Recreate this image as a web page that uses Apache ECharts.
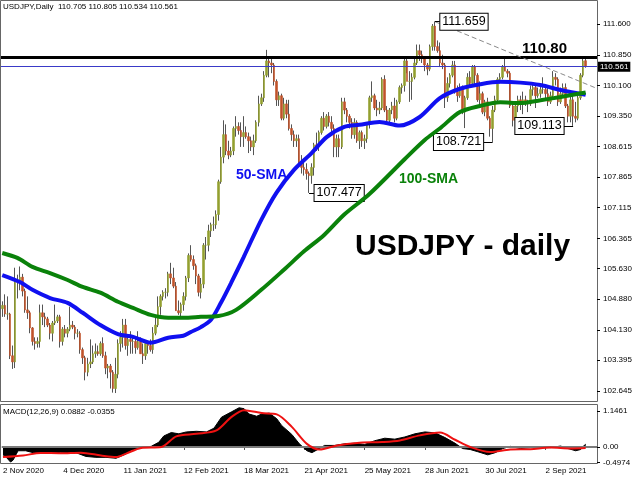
<!DOCTYPE html>
<html><head><meta charset="utf-8">
<script src="https://cdn.jsdelivr.net/npm/echarts@6/dist/echarts.min.js"></script>
<style>html,body{margin:0;padding:0;background:#fff}#c{width:640px;height:480px}</style>
</head><body><div id="c"></div>
<script>
// ---------- DATA ----------
const monthNames = ['Jan','Feb','Mar','Apr','May','Jun','Jul','Aug','Sep','Oct','Nov','Dec'];
const firstDay = '2020-11-02', lastDay = '2021-09-24';
const noBarDays = ['2020-12-25','2021-01-01'];
const dateLabels = ['2 Nov 2020','4 Dec 2020','11 Jan 2021','12 Feb 2021','18 Mar 2021','21 Apr 2021','25 May 2021','28 Jun 2021','30 Jul 2021','2 Sep 2021'];
const priceTicks = [111.600,110.850,110.100,109.350,108.615,107.865,107.115,106.365,105.630,104.880,104.130,103.395,102.645];
const macdTicks = [1.1461, 0, -0.4974];

// daily candles [open, high, low, close]
const candles = [
// Nov 2-6
[104.65,104.83,104.45,104.73],[104.73,105.00,104.45,104.52],[104.52,104.95,104.38,104.52],[104.52,104.55,103.42,103.50],[103.50,103.75,103.18,103.35],
// Nov 9-13
[103.35,105.65,103.20,105.35],[105.35,105.48,104.90,105.30],[105.30,105.68,105.10,105.42],[105.42,105.50,104.95,105.08],[105.08,105.14,104.55,104.62],
// Nov 16-20
[104.62,104.95,104.40,104.55],[104.55,104.60,104.05,104.18],[104.18,104.20,103.75,103.85],[103.85,103.95,103.65,103.80],[103.80,103.95,103.70,103.85],
// Nov 23-27
[103.85,104.75,103.70,104.55],[104.55,104.75,104.25,104.45],[104.45,104.55,104.20,104.40],[104.40,104.45,104.20,104.25],[104.25,104.30,103.90,104.05],
// Nov 30-Dec 4
[104.05,104.35,103.85,104.30],[104.30,104.75,104.25,104.35],[104.35,104.50,104.30,104.45],[104.45,104.50,103.70,103.85],[103.85,104.20,103.75,104.15],
// Dec 7-11
[104.15,104.25,103.95,104.05],[104.05,104.20,103.95,104.15],[104.15,104.70,104.10,104.25],[104.25,104.35,104.15,104.20],[104.20,104.25,103.90,104.05],
// Dec 14-18
[104.05,104.15,103.95,104.05],[104.05,104.10,103.55,103.65],[103.65,103.70,103.30,103.45],[103.45,103.50,102.90,103.10],[103.10,103.45,103.00,103.30],
// Dec 21-24
[103.30,103.90,103.20,103.35],[103.35,103.75,103.30,103.55],[103.55,103.80,103.45,103.60],[103.60,103.75,103.50,103.55],
// Dec 28-31
[103.55,103.85,103.50,103.80],[103.80,103.95,103.45,103.50],[103.50,103.60,103.05,103.20],[103.20,103.30,102.95,103.25],
// Jan 4-8
[103.25,103.30,102.70,103.10],[103.10,103.15,102.60,102.70],[102.70,103.45,102.59,103.05],[103.05,103.90,102.95,103.80],[103.80,104.10,103.60,103.95],
// Jan 11-15
[103.95,104.40,103.70,104.25],[104.25,104.40,103.65,103.75],[103.75,104.00,103.50,103.90],[103.90,104.10,103.55,103.85],[103.85,104.00,103.55,103.85],
// Jan 18-22
[103.85,103.95,103.55,103.70],[103.70,104.10,103.65,103.85],[103.85,103.95,103.55,103.55],[103.55,103.80,103.30,103.50],[103.50,103.85,103.40,103.80],
// Jan 25-29
[103.80,103.85,103.55,103.75],[103.75,103.90,103.60,103.65],[103.65,104.20,103.55,104.05],[104.05,104.50,104.00,104.25],[104.25,104.95,104.20,104.70],
// Feb 1-5
[104.70,105.00,104.50,104.95],[104.95,105.10,104.85,105.05],[105.05,105.15,104.90,105.05],[105.05,105.55,104.95,105.50],[105.50,105.77,105.25,105.40],
// Feb 8-12
[105.40,105.65,105.15,105.20],[105.20,105.30,104.60,104.60],[104.60,104.85,104.50,104.55],[104.55,104.80,104.45,104.75],[104.75,105.05,104.60,104.95],
// Feb 15-19
[104.95,105.45,104.85,105.40],[105.40,106.00,105.30,105.95],[105.95,106.20,105.80,105.85],[105.85,105.95,105.60,105.70],[105.70,105.75,105.25,105.45],
// Feb 22-26
[105.45,105.50,104.95,105.05],[105.05,105.40,104.90,105.25],[105.25,106.25,105.15,106.20],[106.20,106.40,105.85,106.20],[106.20,106.70,106.05,106.55],
// Mar 1-5
[106.55,106.75,106.40,106.70],[106.70,106.90,106.55,106.70],[106.70,107.05,106.60,106.95],[106.95,107.80,106.80,107.75],[107.75,108.60,107.70,108.35],
// Mar 8-12
[108.35,109.25,108.20,108.90],[108.90,109.15,108.40,108.50],[108.50,108.75,108.30,108.40],[108.40,108.60,108.35,108.50],[108.50,109.10,108.40,109.05],
// Mar 15-19
[109.05,109.35,108.85,109.10],[109.10,109.20,108.90,109.00],[109.00,109.20,108.60,108.85],[108.85,109.35,108.60,108.95],[108.95,109.10,108.80,108.85],
// Mar 22-26
[108.85,108.95,108.45,108.75],[108.75,108.85,108.50,108.60],[108.60,108.90,108.40,108.75],[108.75,109.25,108.70,109.20],[109.20,109.85,109.10,109.65],
// Mar 29-Apr 2
[109.65,109.90,109.60,109.80],[109.80,110.45,109.70,110.35],[110.35,110.97,110.30,110.70],[110.70,110.80,110.30,110.65],[110.65,110.75,110.40,110.60],
// Apr 5-9
[110.60,110.65,110.10,110.20],[110.20,110.25,109.60,109.75],[109.75,109.95,109.60,109.85],[109.85,109.90,109.25,109.30],[109.30,109.80,109.25,109.65],
// Apr 12-16
[109.65,109.75,109.30,109.40],[109.40,109.75,109.00,109.05],[109.05,109.15,108.75,108.90],[108.90,109.00,108.60,108.75],[108.75,108.90,108.60,108.80],
// Apr 19-23
[108.80,108.90,108.20,108.20],[108.20,108.40,107.95,108.10],[108.10,108.30,107.90,108.05],[108.05,108.20,107.80,107.95],[107.95,108.00,107.477,107.90],
// Apr 26-30
[107.90,108.20,107.70,108.10],[108.10,108.70,107.90,108.65],[108.65,108.95,108.50,108.60],[108.60,109.00,108.50,108.95],[108.95,109.35,108.90,109.30],
// May 3-7
[109.30,109.45,109.00,109.10],[109.10,109.40,109.05,109.35],[109.35,109.45,109.10,109.20],[109.20,109.35,108.95,109.05],[109.05,109.15,108.35,108.60],
// May 10-14
[108.60,108.90,108.35,108.80],[108.80,108.90,108.35,108.60],[108.60,109.80,108.55,109.70],[109.70,109.80,109.40,109.50],[109.50,109.55,109.20,109.35],
// May 17-21
[109.35,109.40,109.05,109.20],[109.20,109.30,108.80,108.90],[108.90,109.30,108.80,109.20],[109.20,109.25,108.70,108.75],[108.75,109.00,108.55,108.95],
// May 24-28
[108.95,109.00,108.60,108.75],[108.75,108.90,108.55,108.80],[108.80,109.20,108.70,109.15],[109.15,109.85,109.05,109.80],[109.80,110.20,109.70,109.85],
// May 31-Jun 4
[109.85,109.90,109.50,109.55],[109.55,109.75,109.35,109.50],[109.50,109.70,109.40,109.55],[109.55,110.30,109.50,110.25],[110.25,110.35,109.45,109.50],
// Jun 7-11
[109.50,109.60,109.20,109.25],[109.25,109.55,109.20,109.50],[109.50,109.70,109.40,109.60],[109.60,109.80,109.20,109.30],[109.30,109.75,109.25,109.70],
// Jun 14-18
[109.70,110.10,109.65,110.05],[110.05,110.15,109.90,110.10],[110.10,110.80,109.95,110.70],[110.70,110.80,110.40,110.20],[110.20,110.45,109.70,110.20],
// Jun 21-25
[110.20,110.40,109.75,110.30],[110.30,110.80,110.25,110.65],[110.65,111.10,110.60,110.95],[110.95,111.10,110.70,110.85],[110.85,110.95,110.65,110.75],
// Jun 28-Jul 2
[110.75,110.80,110.45,110.60],[110.60,110.65,110.35,110.50],[110.50,111.10,110.45,111.05],[111.05,111.60,110.95,111.55],[111.55,111.659,110.95,111.05],
// Jul 5-9
[111.05,111.20,110.90,110.95],[110.95,111.15,110.55,110.65],[110.65,110.85,110.50,110.60],[110.60,110.65,109.55,109.80],[109.80,110.30,109.70,110.15],
// Jul 12-16
[110.15,110.40,110.05,110.35],[110.35,110.70,110.30,110.60],[110.60,110.70,109.90,109.95],[109.95,110.10,109.70,109.85],[109.85,110.15,109.80,110.05],
// Jul 19-23
[110.05,110.10,109.40,109.45],[109.45,109.85,109.06,109.80],[109.80,110.40,109.75,110.30],[110.30,110.45,110.05,110.15],[110.15,110.60,110.10,110.55],
// Jul 26-30
[110.55,110.60,110.10,110.35],[110.35,110.40,109.70,109.75],[109.75,110.20,109.60,109.90],[109.90,109.95,109.40,109.45],[109.45,109.75,109.35,109.70],
// Aug 2-6
[109.70,109.80,109.25,109.30],[109.30,109.35,108.85,109.05],[109.05,109.60,108.721,109.50],[109.50,109.85,109.45,109.75],[109.75,110.30,109.70,110.25],
// Aug 9-13
[110.25,110.40,110.15,110.30],[110.30,110.60,110.25,110.55],[110.55,110.75,110.45,110.45],[110.45,110.50,110.30,110.40],[110.40,110.45,109.55,109.60],
// Aug 16-20
[109.60,109.65,109.10,109.25],[109.25,109.65,109.10,109.60],[109.60,109.85,109.45,109.75],[109.75,109.85,109.50,109.70],[109.70,109.95,109.40,109.75],
// Aug 23-27
[109.75,109.85,109.60,109.70],[109.70,109.75,109.45,109.65],[109.65,110.10,109.60,110.00],[110.00,110.15,109.85,110.05],[110.05,110.10,109.55,109.85],
// Aug 30-Sep 3
[109.85,110.05,109.80,109.90],[109.90,110.10,109.80,110.00],[110.00,110.30,109.90,110.00],[110.00,110.05,109.75,109.90],[109.90,110.05,109.60,109.70],
// Sep 6-10
[109.70,109.95,109.65,109.85],[109.85,110.45,109.80,110.30],[110.30,110.40,110.10,110.25],[110.25,110.30,109.60,109.70],[109.70,110.05,109.65,109.90],
// Sep 13-17
[109.90,110.15,109.85,110.05],[110.05,110.15,109.55,109.60],[109.60,109.65,109.20,109.35],[109.35,109.85,109.20,109.75],[109.75,109.85,109.113,109.35],
// Sep 20-24
[109.35,109.70,109.20,109.30],[109.30,109.85,109.25,109.80],[109.80,110.40,109.75,110.35],[110.35,110.75,110.30,110.70],[110.705,110.805,110.534,110.561]
];

// moving averages: [bar index, value]
const sma50 = [[0,105.47],[7,105.30],[12,105.11],[19,104.91],[26,104.79],[32,104.55],[39,104.25],[46,104.03],[52,103.96],[59,103.82],[66,103.94],[72,103.99],[75,104.08],[79,104.20],[83,104.38],[87,104.80],[91,105.28],[96,105.91],[103,106.82],[109,107.48],[116,108.04],[123,108.45],[129,108.84],[136,109.09],[142,109.14],[150,109.21],[158,109.12],[166,109.33],[174,109.79],[182,110.02],[190,110.13],[198,110.19],[206,110.17],[214,110.11],[222,109.99],[227,109.93],[232,109.87]];
const sma100 = [[0,106.01],[6,105.89],[12,105.67],[19,105.52],[26,105.35],[32,105.18],[39,105.04],[46,104.82],[52,104.67],[59,104.50],[66,104.43],[72,104.43],[79,104.45],[86,104.47],[93,104.62],[103,105.11],[112,105.60],[120,106.05],[128,106.45],[136,106.95],[146,107.45],[160,108.30],[168,108.77],[174,109.05],[182,109.45],[190,109.60],[198,109.69],[206,109.67],[214,109.74],[222,109.82],[232,109.93]];
// MACD main (histogram) and signal: [bar index, value]
const macdMain = [[0,-0.25],[1,-0.30],[3,-0.48],[4,-0.42],[6,-0.12],[9,-0.12],[12,-0.18],[17,-0.20],[23,-0.17],[29,-0.18],[33,-0.30],[37,-0.33],[41,-0.33],[45,-0.36],[49,-0.22],[51,-0.10],[55,-0.02],[59,0.02],[62,0.15],[64,0.35],[67,0.46],[70,0.42],[73,0.48],[77,0.50],[81,0.48],[84,0.60],[87,0.95],[91,1.12],[94,1.25],[96,1.22],[98,1.05],[101,0.98],[103,1.05],[106,1.08],[109,0.90],[111,0.68],[115,0.40],[118,0.10],[121,-0.12],[123,-0.18],[126,-0.05],[128,0.05],[132,0.05],[136,0.10],[140,0.12],[144,0.08],[148,0.20],[152,0.28],[156,0.25],[160,0.32],[164,0.42],[168,0.48],[172,0.45],[176,0.30],[180,0.12],[183,-0.05],[186,-0.08],[189,-0.15],[193,-0.25],[196,-0.18],[199,-0.05],[202,0.02],[206,-0.05],[210,-0.02],[214,0.00],[218,-0.02],[222,0.03],[225,-0.05],[228,-0.12],[230,-0.08],[231,0.02],[232,0.0882]];
const macdSignal = [[0,-0.32],[8,-0.27],[15,-0.19],[23,-0.20],[31,-0.18],[39,-0.27],[45,-0.32],[49,-0.21],[55,-0.03],[63,0.00],[69,0.34],[77,0.42],[85,0.53],[91,0.96],[96,1.17],[103,1.08],[109,1.04],[115,0.64],[121,0.10],[126,-0.08],[133,0.05],[141,0.13],[151,0.16],[158,0.21],[166,0.37],[174,0.46],[180,0.23],[186,0.00],[194,-0.16],[202,-0.08],[210,-0.07],[218,-0.02],[226,-0.05],[232,-0.0355]];
const levels = {resistance: 110.80, last: 110.561};
const trendFrom = [172, 111.659], trendTo = [236, 110.04];
const swingPoints = [[172,111.659,'right'],[122,107.477,'right'],[195,108.721,'left'],[227,109.113,'left']];

// ---------- BUILD ----------
const dates = [];
for (let d = new Date(firstDay + 'T00:00:00Z'); d <= new Date(lastDay + 'T00:00:00Z'); d.setUTCDate(d.getUTCDate() + 1)) {
  const wd = d.getUTCDay();
  if (wd === 0 || wd === 6) continue;
  if (noBarDays.includes(d.toISOString().slice(0, 10))) continue;
  dates.push(d.getUTCDate() + ' ' + monthNames[d.getUTCMonth()] + ' ' + d.getUTCFullYear());
}
const cats = dates.concat(['', '', '', '']);

const FONT = 'Liberation Sans';
const BULL = '#93a030', BEAR = '#c0532a', WICK = '#555555';

const chart = echarts.init(document.getElementById('c'), null, {renderer: 'canvas', width: 640, height: 480});
const labelShow = (i, v) => dateLabels.includes(v);

chart.setOption({
  animation: false,
  backgroundColor: '#fff',
  grid: [
    {left: 1, width: 596, top: 13, height: 387},
    {left: 1, width: 596, top: 405, height: 58}
  ],
  xAxis: [
    {type: 'category', gridIndex: 0, data: cats, boundaryGap: true, axisLine: {show: false}, axisTick: {show: false}, axisLabel: {show: false}},
    {type: 'category', gridIndex: 1, data: cats, boundaryGap: true, axisLine: {show: false},
      axisTick: {show: true, interval: labelShow, alignWithLabel: true, length: 3, lineStyle: {color: '#555'}},
      axisLabel: {show: true, interval: labelShow, align: 'left', margin: 4, fontSize: 8, fontFamily: FONT, color: '#000'}}
  ],
  yAxis: [
    {type: 'value', gridIndex: 0, position: 'right', min: 102.42, max: 111.87, scale: true,
      splitLine: {show: false}, axisLine: {show: false},
      axisTick: {show: true, customValues: priceTicks, length: 3, lineStyle: {color: '#000'}},
      axisLabel: {customValues: priceTicks, formatter: v => v.toFixed(3), fontSize: 8, fontFamily: FONT, color: '#000', margin: 6}},
    {type: 'value', gridIndex: 1, position: 'right', min: -0.51, max: 1.338,
      splitLine: {show: false}, axisLine: {show: false},
      axisTick: {show: true, customValues: macdTicks, length: 3, lineStyle: {color: '#000'}},
      axisLabel: {customValues: macdTicks, formatter: v => v === 0 ? '0.00' : v.toFixed(4), fontSize: 8, fontFamily: FONT, color: '#000', margin: 6}}
  ],
  series: [
    {type: 'candlestick', name: 'wick', xAxisIndex: 0, yAxisIndex: 0, barWidth: 1,
      data: candles.map(([o, h, l, c]) => [o, c, l, h]),
      itemStyle: {color: WICK, color0: WICK, borderColor: WICK, borderColor0: WICK, borderWidth: 1}},
    {type: 'candlestick', name: 'body', xAxisIndex: 0, yAxisIndex: 0, barWidth: 2,
      data: candles.map(([o, h, l, c]) => [o, c, Math.min(o, c), Math.max(o, c)]),
      itemStyle: {color: BULL, color0: BEAR, borderColor: BULL, borderColor0: BEAR, borderWidth: 0.6},
      markLine: {silent: true, symbol: 'none', animation: false,
        data: [
          {yAxis: levels.resistance, lineStyle: {color: '#000', width: 3, type: 'solid'}, label: {show: false}},
          {yAxis: levels.last, lineStyle: {color: '#3a3ac8', width: 1, type: 'solid'},
            label: {show: true, position: 'end', distance: 1, formatter: () => levels.last.toFixed(3), backgroundColor: '#000', color: '#fff', fontSize: 8, fontFamily: FONT, padding: [1, 2, 1, 2]}},
          [{coord: trendFrom}, {coord: trendTo, lineStyle: {color: '#8a8a8a', width: 1, type: [5, 3]}, label: {show: false}}],
          ...swingPoints.map(([i, v, side]) => [{coord: [i, v]}, {coord: [side === 'right' ? i + 2 : i - 4, v], lineStyle: {color: '#000', width: 1, type: 'solid'}, label: {show: false}}])
        ]},
      markPoint: {silent: true, symbol: 'circle', symbolSize: 1, itemStyle: {color: 'rgba(0,0,0,0)'},
        data: swingPoints.map(([i, v, side]) => ({coord: [i, v], value: v,
          label: {show: true, position: side, distance: side === 'right' ? 5 : 9, formatter: () => v.toFixed(3),
            backgroundColor: '#fff', borderColor: '#000', borderWidth: 1, padding: [2, 2, 1, 2],
            color: '#000', fontSize: 12.5, fontFamily: FONT}}))}},
    {type: 'line', name: '50-SMA', xAxisIndex: 0, yAxisIndex: 0, data: sma50, smooth: 0.3, showSymbol: false,
      lineStyle: {color: '#1010f0', width: 4}, z: 5},
    {type: 'line', name: '100-SMA', xAxisIndex: 0, yAxisIndex: 0, data: sma100, smooth: 0.3, showSymbol: false,
      lineStyle: {color: '#0a820a', width: 4}, z: 6},
    {type: 'line', name: 'MACD', xAxisIndex: 1, yAxisIndex: 1, data: macdMain, showSymbol: false,
      lineStyle: {color: '#000', width: 1}, areaStyle: {color: '#000', origin: 0, opacity: 1},
      markLine: {silent: true, symbol: 'none', data: [{yAxis: 0}], lineStyle: {color: '#7a7a7a', width: 2, type: 'solid'}, label: {show: false}}},
    {type: 'line', name: 'Signal', xAxisIndex: 1, yAxisIndex: 1, data: macdSignal, smooth: 0.3, showSymbol: false,
      lineStyle: {color: '#ee1111', width: 2}, z: 5}
  ],
  graphic: [
    {type: 'rect', shape: {x: 0.5, y: 0.5, width: 597, height: 401}, style: {fill: 'none', stroke: '#666', lineWidth: 1}, silent: true},
    {type: 'rect', shape: {x: 0.5, y: 404.5, width: 597, height: 59}, style: {fill: 'none', stroke: '#666', lineWidth: 1}, silent: true},
    {type: 'text', left: 3, top: 3, style: {text: 'USDJPY,Daily  110.705 110.805 110.534 110.561', fontSize: 8, fontFamily: FONT, fill: '#000'}},
    {type: 'text', left: 3, top: 408, style: {text: 'MACD(12,26,9) 0.0882 -0.0355', fontSize: 8, fontFamily: FONT, fill: '#000'}},
    {type: 'text', left: 522, top: 41, style: {text: '110.80', fontSize: 15, fontWeight: 'bold', fontFamily: FONT, fill: '#000'}},
    {type: 'text', left: 236, top: 168, style: {text: '50-SMA', fontSize: 14, fontWeight: 'bold', fontFamily: FONT, fill: '#1010f0'}},
    {type: 'text', left: 399, top: 172, style: {text: '100-SMA', fontSize: 14, fontWeight: 'bold', fontFamily: FONT, fill: '#0a820a'}},
    {type: 'text', left: 355, top: 232, style: {text: 'USDJPY - daily', fontSize: 30, fontWeight: 'bold', fontFamily: FONT, fill: '#000'}}
  ]
});
</script>
</body></html>
